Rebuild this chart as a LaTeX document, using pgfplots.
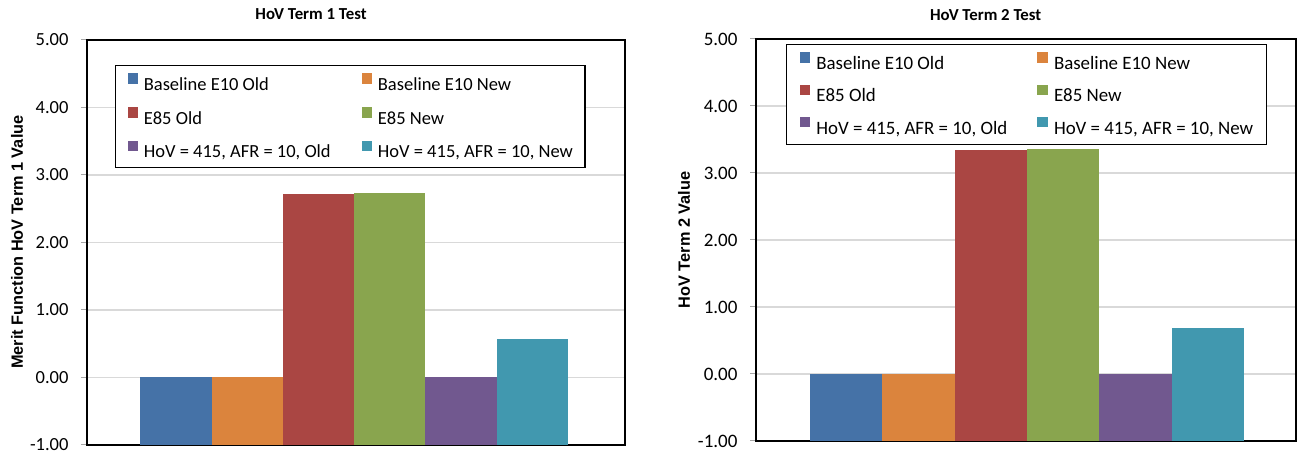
\documentclass[border=0pt]{standalone}
\usepackage{fontspec}
\setmainfont{Carlito}
\newfontfamily\arialfont{Liberation Sans}
\usepackage{pgfplots}
\pgfplotsset{compat=1.18}
\definecolor{cBlue}{HTML}{4572A7}
\definecolor{cOrange}{HTML}{DB843D}
\definecolor{cRed}{HTML}{AA4643}
\definecolor{cGreen}{HTML}{89A54E}
\definecolor{cPurple}{HTML}{71588F}
\definecolor{cTeal}{HTML}{4198AF}
\definecolor{gridgray}{HTML}{D9D9D9}
\definecolor{tickgray}{HTML}{A6A6A6}
\pgfplotsset{
  excelax/.style={
    scale only axis, anchor=south west,
    ybar=0pt,
    ymin=-1, ymax=5,
    y coord trafo/.code={\pgfmathparse{##1+1}},
    y coord inv trafo/.code={\pgfmathparse{##1-1}},
    ytick={-1,0,1,2,3,4,5},
    yticklabels={-1.00,0.00,1.00,2.00,3.00,4.00,5.00},
    xtick=\empty,
    ytick pos=left,
    ymajorgrids,
    grid style={color=gridgray, line width=1.3pt},
    axis line style={line width=1.7pt, black},
    major tick style={color=tickgray, line width=1pt},
    tick align=outside, major tick length=6pt,
    every axis title shift=0pt,
    legend columns=2,
    legend cell align=left,
    legend image code/.code={\path[##1,draw=none] (0pt,0pt) rectangle (10.7pt,10.5pt);},
    every axis y label/.style={rotate=90, anchor=center,
      font=\arialfont\bfseries\fontsize{16.3}{16.3}\selectfont},
    title style={anchor=center, font=\bfseries\fontsize{16.8}{16.8}\selectfont},
  }
}
\begin{document}
\begin{tikzpicture}
\useasboundingbox (0pt,0pt) rectangle (1301pt,454pt);
% ---------- left panel ----------
\begin{axis}[excelax,
  at={(87pt,9pt)}, width=538pt, height=405pt,
  xmin=-0.993, xmax=1.007,
  bar width=71.3pt,
  yticklabel style={font=\fontsize{18.5}{18.5}\selectfont, xshift=-9pt},
  ylabel={Merit Function HoV Term 1 Value},
  every axis y label/.append style={at={(axis description cs:-0.1301,0.501)}},
  title={HoV Term 1 Test},
  title style={at={(axis description cs:0.4164,1.064)}},
  legend style={at={(0.052,0.938)}, anchor=north west, draw=black, line width=1.3pt,
    fill=white, inner xsep=12pt, inner ysep=7.5pt, row sep=14.4pt, column sep=5.5pt,
    /tikz/every even column/.append style={column sep=31pt},
    nodes={inner sep=0pt, text height=15.5pt, text depth=2.2pt},
    font=\fontsize{18.5}{18.5}\selectfont},
]
\addplot[fill=cBlue, draw=none] coordinates {(0,0)};
\addplot[fill=cOrange, draw=none] coordinates {(0,0)};
\addplot[fill=cRed, draw=none] coordinates {(0,2.72)};
\addplot[fill=cGreen, draw=none] coordinates {(0,2.74)};
\addplot[fill=cPurple, draw=none] coordinates {(0,0)};
\addplot[fill=cTeal, draw=none] coordinates {(0,0.565)};
\legend{Baseline E10 Old, Baseline E10 New, E85 Old, E85 New, {HoV = 415, AFR = 10, Old}, {HoV = 415, AFR = 10, New}}
\end{axis}
% ---------- right panel ----------
\begin{axis}[excelax,
  at={(756pt,13pt)}, width=540pt, height=402pt,
  xmin=-1.004, xmax=0.996,
  bar width=72.4pt,
  yticklabel style={font=\fontsize{19}{19}\selectfont, xshift=-9pt},
  ylabel={HoV Term 2 Value},
  every axis y label/.append style={at={(axis description cs:-0.1333,0.5)}},
  title={HoV Term 2 Test},
  title style={at={(axis description cs:0.4252,1.0604)}},
  legend style={at={(0.0556,0.9876)}, anchor=north west, draw=black, line width=1.3pt,
    fill=white, inner xsep=13pt, inner ysep=7.7pt, row sep=12.6pt, column sep=6pt,
    /tikz/every even column/.append style={column sep=30pt},
    nodes={inner sep=0pt, text height=15.8pt, text depth=2.6pt},
    font=\fontsize{18.9}{18.9}\selectfont},
]
\addplot[fill=cBlue, draw=none] coordinates {(0,0)};
\addplot[fill=cOrange, draw=none] coordinates {(0,0)};
\addplot[fill=cRed, draw=none] coordinates {(0,3.343)};
\addplot[fill=cGreen, draw=none] coordinates {(0,3.353)};
\addplot[fill=cPurple, draw=none] coordinates {(0,0)};
\addplot[fill=cTeal, draw=none] coordinates {(0,0.69)};
\legend{Baseline E10 Old, Baseline E10 New, E85 Old, E85 New, {HoV = 415, AFR = 10, Old}, {HoV = 415, AFR = 10, New}}
\end{axis}
\end{tikzpicture}
\end{document}
